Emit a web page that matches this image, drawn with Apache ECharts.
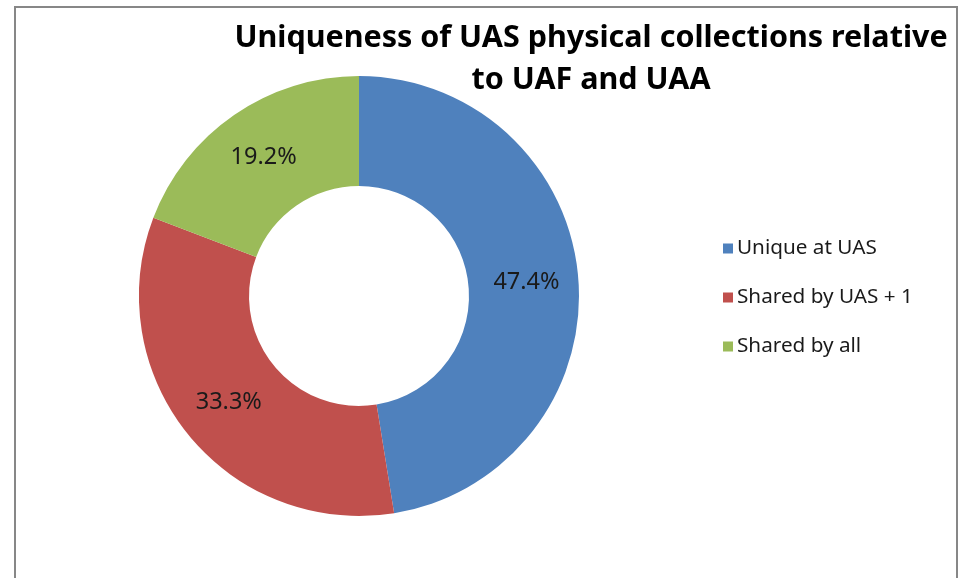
<!DOCTYPE html>
<html><head><meta charset="utf-8">
<script src="https://cdn.jsdelivr.net/npm/echarts@6/dist/echarts.min.js"></script>
<style>html,body{margin:0;padding:0;background:#fff}#c{width:965px;height:578px}</style>
</head><body><div id="c"></div>
<script>
const categories = ['Unique at UAS', 'Shared by UAS + 1', 'Shared by all'];
const values = [47.4, 33.3, 19.2];
const colors = ['#4F81BD', '#C0504D', '#9BBB59'];
const titleLines = ['Uniqueness of UAS physical collections relative', 'to UAF and UAA'];

const chart = echarts.init(document.getElementById('c'), null, {renderer: 'canvas'});
chart.setOption({
  animation: false,
  backgroundColor: '#fff',
  color: colors,
  graphic: [
    {type: 'rect', shape: {x: 15, y: 7, width: 942, height: 620}, style: {fill: 'none', stroke: '#878787', lineWidth: 2}, silent: true},
    {type: 'text', x: 591, y: 17, style: {text: titleLines.join('\n'), align: 'center', verticalAlign: 'top', font: 'bold 30.5px "Noto Sans"', lineHeight: 42, fill: '#000'}}
  ],
  legend: {
    orient: 'vertical', left: 718, top: 233,
    icon: 'rect', itemWidth: 10, itemHeight: 10, itemGap: 28,
    textStyle: {fontFamily: 'Noto Sans', fontSize: 20.7, color: '#1a1a1a', padding: [0,0,0,-1]},
    data: categories
  },
  series: [{
    type: 'pie',
    center: [359, 296],
    radius: [110, 220],
    startAngle: 90,
    clockwise: true,
    avoidLabelOverlap: false,
    label: {show: true, position: 'inside', formatter: p => p.value.toFixed(1) + '%', fontFamily: 'Noto Sans', fontSize: 23.5, color: '#1a1a1a'},
    labelLine: {show: false},
    itemStyle: {borderWidth: 0},
    emphasis: {disabled: true},
    data: categories.map((c, i) => ({name: c, value: values[i]}))
  }]
});
</script></body></html>
